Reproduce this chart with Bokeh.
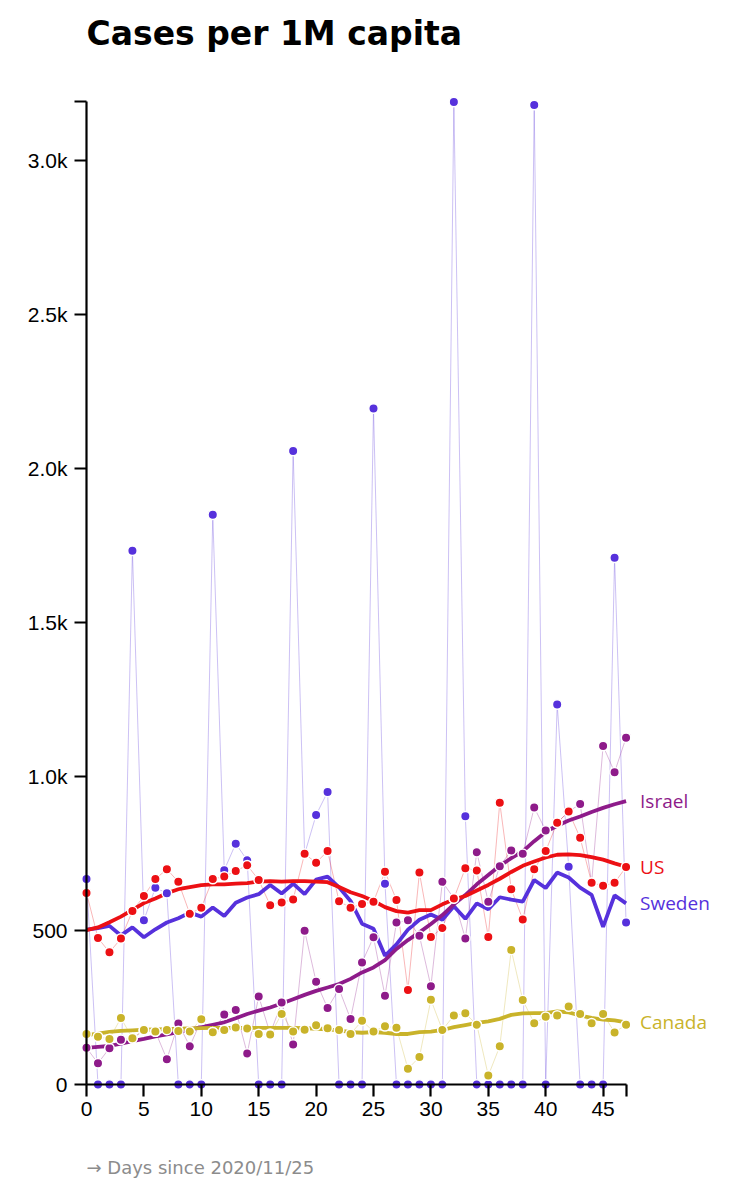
from bokeh.plotting import figure
from bokeh.models import ColumnDataSource, Range1d, FixedTicker, Label
from bokeh.embed import file_html
from bokeh.resources import INLINE

# days since 2020/11/25
days = list(range(48))

# daily new cases per 1M (raw points)
sweden = [667, 0, 0, 0, 1733, 533, 639, 621, 0, 0, 0, 1850, 696, 782, 728, 0,
          0, 0, 2057, 748, 875, 950, 0, 0, 0, 2195, 652, 0, 0, 0, 0, 0,
          3190, 871, 0, 0, 0, 0, 0, 3180, 0, 1234, 707, 0, 0, 0, 1710, 526]
israel = [119, 69, 118, 145, 150, 175, 172, 82, 198, 124, 210, 170, 227, 242, 101, 286,
          165, 266, 130, 499, 334, 248, 310, 213, 396, 478, 288, 526, 533, 483, 319, 658,
          604, 474, 754, 593, 709, 760, 749, 899, 825, 850, 886, 911, 655, 1099, 1014, 1126]
canada = [164, 155, 148, 216, 150, 177, 172, 177, 174, 172, 212, 170, 177, 185, 182, 164,
          162, 229, 172, 178, 192, 183, 177, 164, 207, 172, 189, 184, 51, 89, 275, 177,
          224, 231, 194, 29, 124, 437, 274, 199, 220, 224, 253, 229, 199, 229, 169, 194]
us = [622, 476, 429, 474, 563, 612, 667, 699, 658, 554, 574, 667, 675, 693, 712, 664,
      582, 591, 601, 749, 720, 758, 595, 574, 586, 593, 691, 599, 307, 688, 479, 508,
      604, 702, 695, 479, 915, 634, 536, 699, 758, 850, 886, 801, 655, 645, 655, 706]

# smoothed trend lines
sweden_avg = [503, 508, 515, 484, 510, 478, 504, 526, 540, 558, 545, 575, 547, 590, 607, 618,
              648, 620, 652, 618, 665, 675, 640, 596, 522, 506, 418, 455, 503, 535, 552, 535,
              579, 538, 588, 569, 608, 600, 594, 664, 638, 688, 672, 639, 616, 512, 614, 588]
israel_avg = [119, 122, 125, 133, 141, 148, 156, 163, 170, 178, 186, 194, 202, 215, 229, 240,
              250, 263, 277, 291, 304, 315, 326, 343, 364, 380, 404, 440, 469, 494, 521, 550,
              585, 615, 650, 680, 710, 735, 757, 790, 820, 840, 857, 870, 885, 898, 910, 920]
canada_avg = [160, 165, 171, 174, 176, 178, 179, 180, 181, 182, 183, 184, 184, 184, 184, 184,
              184, 184, 184, 183, 181, 179, 176, 170, 168, 170, 168, 164, 164, 170, 172, 177,
              186, 193, 200, 205, 213, 226, 231, 232, 232, 237, 234, 224, 216, 211, 208, 202]
us_avg = [501, 510, 527, 545, 567, 589, 604, 621, 634, 641, 647, 650, 650, 652, 654, 659,
          660, 659, 660, 660, 659, 657, 641, 624, 612, 596, 576, 563, 558, 566, 566, 585,
          601, 612, 630, 648, 668, 690, 710, 724, 737, 746, 747, 745, 738, 730, 718, 707]

countries = ["Sweden", "Israel", "Canada", "US"]
colors = {"Sweden": "#5631dc", "Israel": "#8e1b8a", "Canada": "#c9b32a", "US": "#ec1014"}

xtick_values = [0, 5, 10, 15, 20, 25, 30, 35, 40, 45]
ytick_values = [0, 500, 1000, 1500, 2000, 2500, 3000]
ytick_labels = ["0", "500", "1.0k", "1.5k", "2.0k", "2.5k", "3.0k"]

source = ColumnDataSource(data=dict(
    day=days,
    Sweden=sweden, Israel=israel, Canada=canada, US=us,
    Sweden_avg=sweden_avg, Israel_avg=israel_avg, Canada_avg=canada_avg, US_avg=us_avg,
))

y_max = max(sweden)
x_max = days[-1]

# the frame fills the whole canvas so the origin axes and labels are not clipped
W, H = 740, 1196
X0, PX_DAY = 86, 11.48      # pixel of day 0, pixels per day
Y0, PX_CASE = 1084, 0.308   # pixel of 0 cases, pixels per case

p = figure(width=W, height=H, output_backend="svg", toolbar_location=None,
           x_range=Range1d(-X0 / PX_DAY, (W - X0) / PX_DAY),
           y_range=Range1d((Y0 - H) / PX_CASE, Y0 / PX_CASE),
           min_border_left=0, min_border_right=0, min_border_top=0, min_border_bottom=0)

p.xgrid.visible = False
p.ygrid.visible = False
p.outline_line_color = None
p.background_fill_color = "white"
p.border_fill_color = "white"

# axes through the origin, d3-style outer ticks at the domain ends
p.xaxis.fixed_location = 0
p.yaxis.fixed_location = 0
p.xaxis.bounds = (0, x_max)
p.yaxis.bounds = (0, y_max)
p.xaxis.ticker = FixedTicker(ticks=xtick_values + [x_max])
p.yaxis.ticker = FixedTicker(ticks=ytick_values + [y_max])
p.xaxis.major_label_overrides = {x_max: ""}
yo = dict(zip(ytick_values, ytick_labels))
yo[y_max] = ""
p.yaxis.major_label_overrides = yo

for ax in (p.xaxis, p.yaxis):
    ax.axis_line_color = "black"
    ax.axis_line_width = 2.2
    ax.major_tick_line_color = "black"
    ax.major_tick_line_width = 2.2
    ax.major_tick_in = 0
    ax.major_tick_out = 12
    ax.minor_tick_line_color = None
    ax.major_label_text_font = "Liberation Sans"
    ax.major_label_text_font_size = "21px"
    ax.major_label_text_color = "black"
p.xaxis.major_label_standoff = 5
p.yaxis.major_label_standoff = 7

# thin lines through the daily points
for c in countries:
    p.line("day", c, source=source, line_color=colors[c], line_width=1, line_alpha=0.3)

# smoothed trend
for c in countries:
    p.line("day", c + "_avg", source=source, line_color=colors[c], line_width=3.8)

# daily points
for c in countries:
    p.scatter("day", c, source=source, size=9.5, fill_color=colors[c],
              line_color="white", line_width=1.5)

# end-of-line country labels
for c in countries:
    p.add_layout(Label(x=x_max, y=source.data[c + "_avg"][-1], text=c, x_offset=14,
                       text_baseline="middle", text_color=colors[c],
                       text_font="Open Sans", text_font_size="19px"))

# title and axis note
p.add_layout(Label(x=0, y=(Y0 - 33) / PX_CASE, text="Cases per 1M capita",
                   text_baseline="alphabetic", text_color="black",
                   text_font="DejaVu Sans", text_font_style="bold", text_font_size="33px"))
p.add_layout(Label(x=0, y=(Y0 - 1167) / PX_CASE, text="\u2192 Days since 2020/11/25",
                   text_baseline="middle", text_color="#8c8c8c",
                   text_font="DejaVu Sans", text_font_size="18px"))

open("out.html", "w").write(file_html(p, INLINE))
